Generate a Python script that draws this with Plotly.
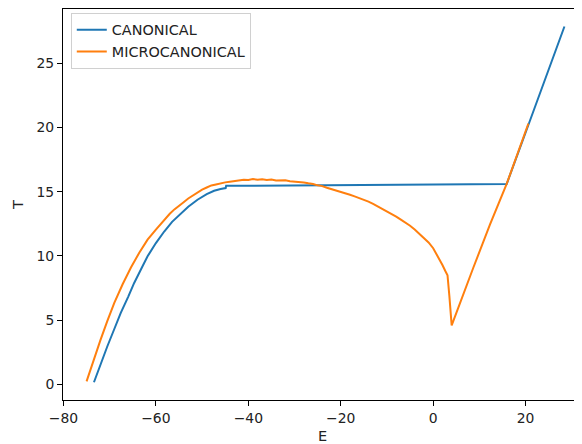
import plotly.graph_objects as go

canon_E = [-73.4, -72.0, -70.5, -69.0, -67.6, -66.0, -64.7, -63.0, -61.8, -60.0, -58.2, -56.5,
           -55.5, -54.6, -53.0, -52.0, -51.0, -49.0, -47.4, -46.0, -44.9, -44.8, -30.0, -10.0,
           0.0, 10.0, 15.9, 20.0, 24.0, 28.4]
canon_T = [0.18, 1.57, 2.98, 4.32, 5.57, 6.82, 7.9, 9.12, 9.97, 11.0, 11.9, 12.65,
           13.0, 13.3, 13.83, 14.1, 14.37, 14.8, 15.07, 15.2, 15.28, 15.45, 15.47, 15.5,
           15.52, 15.55, 15.59, 19.6, 23.55, 27.84]

micro_E = [-75.0, -73.5, -72.0, -70.5, -69.0, -67.2, -65.4, -63.6, -61.8, -60.0, -58.2, -57.0,
           -56.0, -55.0, -54.0, -53.0, -52.0, -51.0, -50.0, -49.0, -48.0, -47.0, -46.0, -45.0,
           -44.0, -43.0, -42.0, -41.0, -40.0, -39.0, -38.0, -37.0, -36.0, -35.0, -34.0, -33.0,
           -32.0, -31.0, -30.0, -29.0, -28.0, -27.0, -26.0, -25.0, -24.0, -23.0, -22.0, -21.0,
           -20.0, -19.0, -18.0, -17.0, -16.0, -15.0, -14.0, -13.0, -12.0, -11.0, -10.0, -9.0,
           -8.0, -7.0, -6.0, -5.0, -4.0, -3.0, -2.0, -1.0, 0.0, 1.0, 1.5, 2.0,
           2.6, 3.1, 3.5, 4.0, 8.7, 12.3, 15.9, 20.6]
micro_T = [0.25, 1.9, 3.45, 4.95, 6.35, 7.8, 9.1, 10.25, 11.27, 12.05, 12.8, 13.28,
           13.62, 13.93, 14.18, 14.47, 14.7, 14.98, 15.15, 15.32, 15.48, 15.56, 15.66, 15.72,
           15.77, 15.82, 15.84, 15.93, 15.9, 15.98, 15.92, 15.96, 15.91, 15.94, 15.87, 15.86,
           15.88, 15.8, 15.78, 15.74, 15.71, 15.65, 15.6, 15.49, 15.43, 15.3, 15.2, 15.06,
           14.98, 14.88, 14.76, 14.63, 14.5, 14.38, 14.22, 14.05, 13.86, 13.66, 13.5, 13.3,
           13.06, 12.82, 12.6, 12.35, 12.05, 11.72, 11.4, 11.05, 10.6, 10.0, 9.65, 9.3,
           8.85, 8.5, 6.9, 4.6, 9.1, 12.45, 15.6, 20.3]

x_ticks = [-80, -60, -40, -20, 0, 20]
y_ticks = [0, 5, 10, 15, 20, 25]

font = "DejaVu Sans, Arial, sans-serif"

fig = go.Figure()
fig.add_trace(go.Scatter(x=canon_E, y=canon_T, mode="lines", name="CANONICAL",
                         line=dict(color="#1f77b4", width=2)))
fig.add_trace(go.Scatter(x=micro_E, y=micro_T, mode="lines", name="MICROCANONICAL",
                         line=dict(color="#ff7f0e", width=2)))

# page has an 8px body margin; figure is sized/offset to compensate
fig.update_layout(
    width=574, height=436,
    margin=dict(l=55, r=0, t=1, b=44),
    paper_bgcolor="white", plot_bgcolor="white",
    font=dict(family=font, size=13.9, color="#222222"),
    showlegend=True,
    legend=dict(x=0.015, y=0.99, xanchor="left", yanchor="top",
                bgcolor="rgba(255,255,255,0.9)", bordercolor="#d0d0d0", borderwidth=1,
                font=dict(family=font, size=14.4, color="#222222")),
)
fig.update_xaxes(range=[-80.1, 32.2], tickvals=x_ticks, showgrid=False, zeroline=False,
                 showline=True, linecolor="black", linewidth=1, mirror=True,
                 ticks="outside", ticklen=5, tickcolor="black",
                 title=dict(text="E", font=dict(size=14.5), standoff=7))
fig.update_yaxes(range=[-1.2, 29.2], tickvals=y_ticks, showgrid=False, zeroline=False,
                 showline=True, linecolor="black", linewidth=1, mirror=False,
                 ticks="outside", ticklen=5, tickcolor="black",
                 title=dict(text="T", font=dict(size=14.5), standoff=9))

fig.write_html("out.html")
